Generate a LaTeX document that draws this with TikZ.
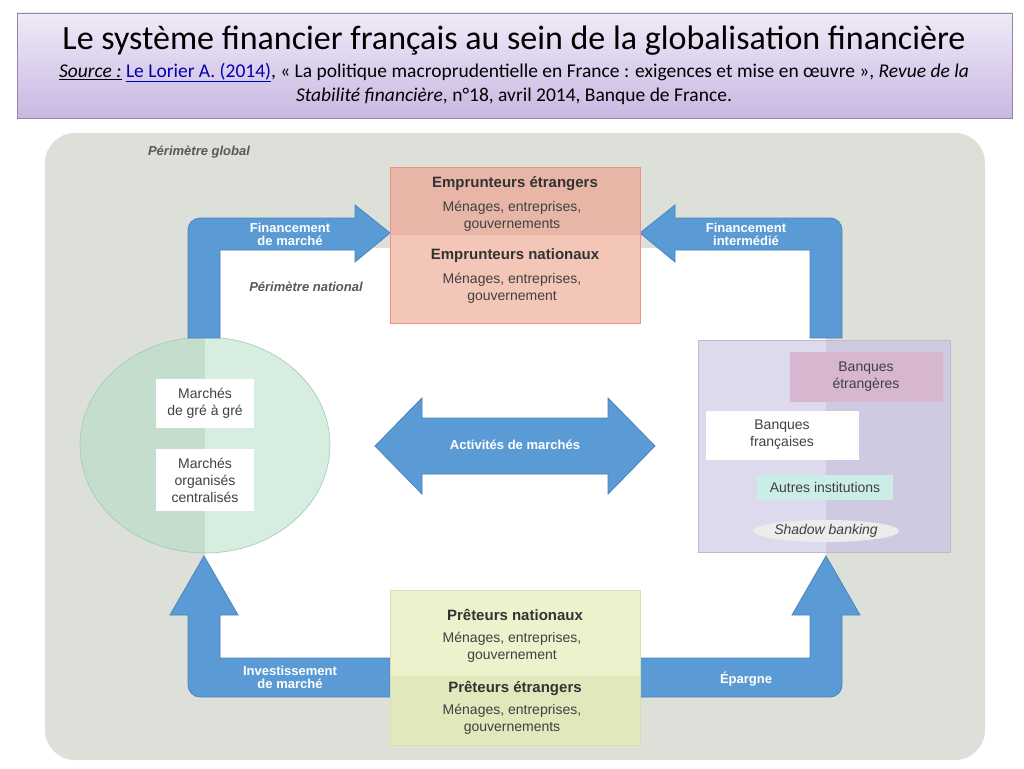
\documentclass[tikz,border=0pt]{standalone}
\usepackage{fontspec}
\setmainfont{Liberation Sans}
\newfontfamily\carl{Carlito}
\usetikzlibrary{shapes.geometric}
\definecolor{bluea}{HTML}{5B9BD5}
\definecolor{blueb}{HTML}{4A84BE}
\definecolor{grayb}{HTML}{DCE0D8}
\definecolor{sal1}{HTML}{E8B6A6}
\definecolor{sal2}{HTML}{F3C6B8}
\definecolor{yel1}{HTML}{EEF2CC}
\definecolor{yel2}{HTML}{E1E9BC}
\definecolor{grn1}{HTML}{C4DDCD}
\definecolor{grn2}{HTML}{D6EDDF}
\definecolor{lav1}{HTML}{DEDAEE}
\definecolor{lav2}{HTML}{CFCAE2}
\definecolor{pnk}{HTML}{D6B7CF}
\definecolor{tea}{HTML}{CBEDE8}
\begin{document}
\begin{tikzpicture}[x=1pt,y=-1pt,
  flow/.style={fill=bluea,draw=blueb,line width=0.8pt},
  lbl/.style={text=white,font=\fontsize{13}{13}\selectfont\bfseries,align=center,inner sep=0},
  txt/.style={font=\fontsize{14}{17}\selectfont,align=center,text=black!75,inner sep=0},
  hd/.style={font=\fontsize{15}{17}\selectfont\bfseries,text=black!80,inner sep=0}]
\useasboundingbox (0,0) rectangle (1024,768);
\fill[white] (0,0) rectangle (1024,768);
% title
\shade[top color={rgb,255:red,240;green,234;blue,248},bottom color={rgb,255:red,200;green,184;blue,226},draw={rgb,255:red,150;green,130;blue,170},line width=0.8pt] (17,13) rectangle (1012,118);
\node[font=\carl\fontsize{34}{36}\selectfont] (title) at (514,41) {Le système financier français au sein de la globalisation financière};
\node[font=\carl\fontsize{19.5}{24}\selectfont,align=center] (src) at (514,84) {\underline{\textit{Source :}} \textcolor{blue!70!black}{\underline{Le Lorier A. (2014)}}, « La politique macroprudentielle en France : exigences et mise en œuvre », \textit{Revue de la}\\\textit{Stabilité financière}, n°18, avril 2014, Banque de France.};
% global perimeter
\fill[grayb,rounded corners=30] (45,133) rectangle (985,760);
\node[font=\fontsize{13}{13}\selectfont\bfseries\itshape,text=black!65] (pg) at (199,152) {Périmètre global};
% national perimeter
\fill[white] (205,248) rectangle (826,668);
\node[font=\fontsize{13}{13}\selectfont\bfseries\itshape,text=black!65] (pn) at (306,287) {Périmètre national};
% markets circle
\begin{scope}
\clip (205,445) ellipse (125 and 108);
\fill[grn1] (70,330) rectangle (205,560);
\fill[grn2] (205,330) rectangle (340,560);
\end{scope}
\draw[grn1!80!teal,line width=0.6pt] (205,445) ellipse (125 and 108);
\node[fill=white,minimum width=98,minimum height=49,txt] (otc) at (205,403) {Marchés\\de gré à gré};
\node[fill=white,minimum width=98,minimum height=62,txt] (org) at (205,480) {Marchés\\organisés\\centralisés};
% banks box
\fill[lav1] (698,340) rectangle (826,552);
\fill[lav2] (826,340) rectangle (950,552);
\draw[lav2!80!gray] (698,340) rectangle (950,552);
\node[fill=pnk,minimum width=153,minimum height=50,txt] (be) at (866,377) {Banques\\étrangères};
\node[fill=white,minimum width=153,minimum height=49,txt] (bf) at (782,435) {Banques\\françaises};
\node[fill=tea,minimum width=136,minimum height=25,txt] (ai) at (825,487) {Autres institutions};
\node[ellipse,fill=gray!15,minimum width=132,minimum height=22,txt,font=\fontsize{14}{14}\selectfont\itshape] (sb) at (826,531) {Shadow banking};
% flows
\draw[flow] (188,338) [rounded corners=12]-- (188,218) [sharp corners]-- (355,218) -- (355,205) -- (390,233) -- (355,262) -- (355,250) -- (220,250) -- (220,338) -- cycle;
\draw[flow] (842,338) [rounded corners=12]-- (842,218) [sharp corners]-- (675,218) -- (675,205) -- (640,233) -- (675,262) -- (675,250) -- (810,250) -- (810,338) -- cycle;
\draw[flow] (390,658) -- (220,658) -- (220,615) -- (238,615) -- (204,556) -- (170,615) -- (188,615) [rounded corners=12]-- (188,697) [sharp corners]-- (390,697) -- cycle;
\draw[flow] (640,658) -- (810,658) -- (810,615) -- (792,615) -- (826,556) -- (860,615) -- (842,615) [rounded corners=12]-- (842,697) [sharp corners]-- (640,697) -- cycle;
\draw[flow] (375,446) -- (422,398) -- (422,418) -- (608,418) -- (608,398) -- (655,446) -- (608,494) -- (608,474) -- (422,474) -- (422,494) -- cycle;
\node[lbl] (l1) at (290,234) {Financement\\de marché};
\node[lbl] (l2) at (746,234) {Financement\\intermédié};
\node[lbl] (l3) at (290,677) {Investissement\\de marché};
\node[lbl] (l4) at (746,679) {Épargne};
\node[lbl] (l5) at (515,445) {Activités de marchés};
% borrowers
\fill[sal1] (390,167) rectangle (640,235);
\fill[sal2] (390,235) rectangle (640,323);
\draw[sal1!80!red] (390,167) rectangle (640,323);
\node[hd] (e1) at (515,184) {Emprunteurs étrangers};
\node[txt] (e1t) at (512,216) {Ménages, entreprises,\\gouvernements};
\node[hd] (e2) at (515,256) {Emprunteurs nationaux};
\node[txt] (e2t) at (512,288) {Ménages, entreprises,\\gouvernement};
% lenders
\fill[yel1] (390,590) rectangle (640,676);
\fill[yel2] (390,676) rectangle (640,745);
\draw[yel2!90!gray] (390,590) rectangle (640,745);
\node[hd] (p1) at (515,615) {Prêteurs nationaux};
\node[txt] (p1t) at (512,647) {Ménages, entreprises,\\gouvernement};
\node[hd] (p2) at (515,688) {Prêteurs étrangers};
\node[txt] (p2t) at (512,719) {Ménages, entreprises,\\gouvernements};
\end{tikzpicture}
\end{document}
